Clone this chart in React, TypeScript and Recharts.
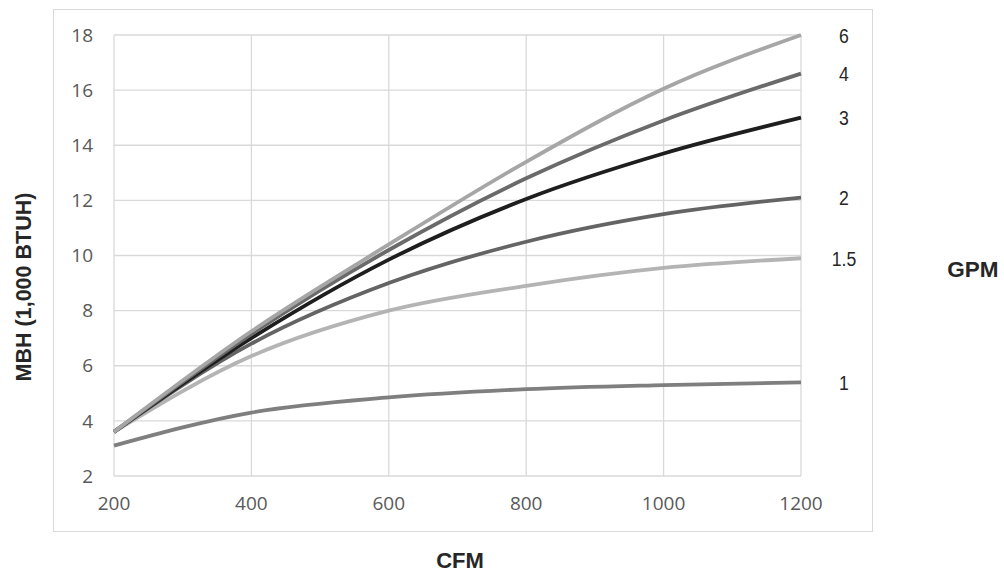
import React from 'react';
import { LineChart, Line, XAxis, YAxis, CartesianGrid, Customized } from 'recharts';

const cfm = [200, 400, 600, 800, 1000, 1200];
const gpm6 = [3.6, 7.25, 10.4, 13.4, 16.05, 18.0];
const gpm4 = [3.6, 7.15, 10.2, 12.8, 14.9, 16.6];
const gpm3 = [3.6, 7.0, 9.85, 12.05, 13.7, 15.0];
const gpm2 = [3.6, 6.8, 9.0, 10.5, 11.5, 12.1];
const gpm15 = [3.6, 6.35, 8.0, 8.9, 9.55, 9.9];
const gpm1 = [3.1, 4.3, 4.85, 5.15, 5.3, 5.4];

const xTicks = [200, 400, 600, 800, 1000, 1200];
const yTicks = [2, 4, 6, 8, 10, 12, 14, 16, 18];

const series = [
  { key: 'g1', name: '1', values: gpm1, color: '#7f7f7f' },
  { key: 'g15', name: '1.5', values: gpm15, color: '#b4b4b4' },
  { key: 'g2', name: '2', values: gpm2, color: '#646464' },
  { key: 'g3', name: '3', values: gpm3, color: '#1e1e1e' },
  { key: 'g4', name: '4', values: gpm4, color: '#6a6a6a' },
  { key: 'g6', name: '6', values: gpm6, color: '#a6a6a6' },
];

const data = cfm.map((c, i) => {
  const row: Record<string, number> = { cfm: c };
  series.forEach((s) => {
    row[s.key] = s.values[i];
  });
  return row;
});

const makeEndLabel = (name: string) => (props: any) => {
  const { x, y, index } = props;
  if (index !== cfm.length - 1) return null;
  return (
    <text
      transform={`translate(${x + 43} ${y}) scale(0.84 1)`}
      x={0}
      y={0}
      textAnchor="middle"
      dominantBaseline="central"
      fontFamily="'Liberation Sans', Arial, sans-serif"
      fontSize={21}
      fill="#262626"
    >
      {name}
    </text>
  );
};

const Titles = () => (
  <g fontFamily="'Liberation Sans', Arial, sans-serif" fontWeight="bold" fill="#262626">
    <text x={24} y={287} fontSize={21.5} textAnchor="middle" dominantBaseline="central" transform="rotate(-90 24 287)">
      MBH (1,000 BTUH)
    </text>
    <text x={460} y={560} fontSize={22} textAnchor="middle" dominantBaseline="central">
      CFM
    </text>
    <text x={973} y={269} fontSize={22.5} textAnchor="middle" dominantBaseline="central">
      GPM
    </text>
  </g>
);

export default function App() {
  return (
    <div style={{ position: 'absolute', left: 0, top: 0, width: 1004, height: 572, background: '#fff' }}>
      <div
        style={{
          position: 'absolute',
          left: 53,
          top: 9,
          width: 818,
          height: 521,
          border: '1px solid #d9d9d9',
        }}
      />
      <div style={{ position: 'absolute', left: 0, top: 0 }}>
        <LineChart width={1004} height={572} data={data} margin={{ top: 35, right: 203, bottom: 0, left: 0 }}>
          <CartesianGrid stroke="#d9d9d9" strokeWidth={1.3} />
          <XAxis
            dataKey="cfm"
            type="number"
            domain={[200, 1200]}
            ticks={xTicks}
            axisLine={false}
            tickLine={false}
            tickSize={0}
            tickMargin={21}
            height={96}
            tick={{ fill: '#595959', fontSize: 19, fontFamily: "'Open Sans', sans-serif" }}
          />
          <YAxis
            type="number"
            domain={[2, 18]}
            ticks={yTicks}
            axisLine={false}
            tickLine={false}
            tickSize={0}
            tickMargin={21}
            width={114}
            tick={{ fill: '#595959', fontSize: 19, fontFamily: "'Open Sans', sans-serif" }}
          />
          {series.map((s) => (
            <Line
              key={s.key}
              dataKey={s.key}
              name={s.name}
              type="monotone"
              stroke={s.color}
              strokeWidth={3.8}
              dot={false}
              activeDot={false}
              isAnimationActive={false}
              label={makeEndLabel(s.name)}
            />
          ))}
          <Customized component={Titles} />
        </LineChart>
      </div>
    </div>
  );
}
